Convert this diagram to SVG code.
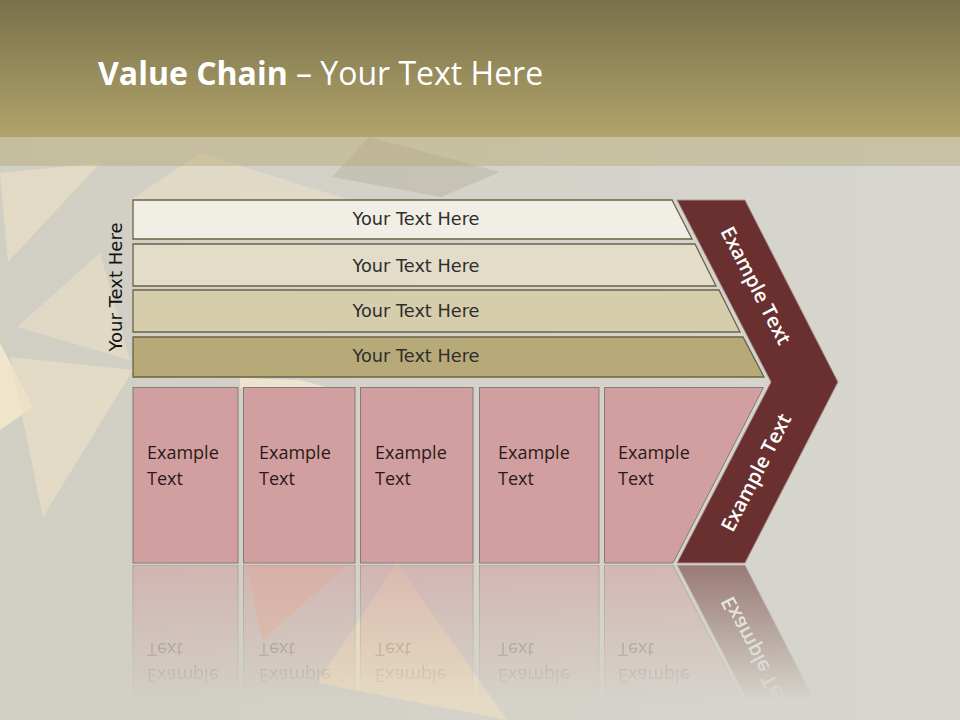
<svg xmlns="http://www.w3.org/2000/svg" xmlns:xlink="http://www.w3.org/1999/xlink" width="960" height="720" viewBox="0 0 960 720">
<defs>
<linearGradient id="titleGrad" x1="0" y1="0" x2="0" y2="1">
<stop offset="0" stop-color="#79714a"/>
<stop offset="1" stop-color="#b1a36b"/>
</linearGradient>
<linearGradient id="bgGrad" x1="0" y1="0" x2="1" y2="0">
<stop offset="0" stop-color="#d1cec4"/>
<stop offset="0.5" stop-color="#d4d2c9"/>
<stop offset="1" stop-color="#d7d6cf"/>
</linearGradient>
<linearGradient id="fadeGrad" x1="0" y1="565" x2="0" y2="700" gradientUnits="userSpaceOnUse">
<stop offset="0" stop-color="#fff" stop-opacity="0.55"/>
<stop offset="1" stop-color="#fff" stop-opacity="0"/>
</linearGradient>
<mask id="fade" maskUnits="userSpaceOnUse" x="0" y="565" width="960" height="155">
<rect x="0" y="565" width="960" height="155" fill="url(#fadeGrad)"/>
</mask>
<style>
.title{font-family:"Open Sans","Liberation Sans",sans-serif;fill:#ffffff;font-size:32px}
.bar{stroke:#6b6346;stroke-width:1.3}
.bartxt{font-family:"DejaVu Sans",sans-serif;font-size:17px;fill:#2e2e2e;text-anchor:middle}
.box{fill:#d19fa0;stroke:#857a76;stroke-width:1}
.boxtxt{font-family:"Open Sans","Liberation Sans",sans-serif;font-size:18px;fill:#2a1a1a}
.chev{fill:#69302f;stroke:#a99290;stroke-width:1}
.chevtxt{font-family:"Open Sans","Liberation Sans",sans-serif;font-size:20px;font-weight:600;fill:#ffffff;text-anchor:middle}
.deco{fill:#e9e0c4}
.decod{fill:#bdb8a8}
</style>
</defs>

<!-- background -->
<rect x="0" y="0" width="960" height="720" fill="url(#bgGrad)"/>
<g id="background">
<polygon class="deco" points="0,173 100,163 8,262" opacity="0.7"/>
<polygon class="deco" points="17,327 100,253 130,360" opacity="0.6"/>
<polygon fill="#f1e8cb" points="0,343 33,407 0,430" opacity="0.9"/>
<polygon class="deco" points="10,357 133,370 43,517" opacity="0.7"/>
<polygon class="deco" points="200,153 350,200 131,200" opacity="0.6"/>
<polygon class="decod" points="369,137 500,172 441,197 332,177" opacity="0.6"/>
<polygon fill="#f2e9cf" points="240,378 300,380 330,388 240,388" opacity="0.8"/>
<polygon fill="#ebdcc0" points="397,563 507,720 317,683" opacity="0.75"/>
<polygon fill="#e8b898" points="247,565 347,565 262,640" opacity="0.5"/>
</g>

<!-- title band -->
<rect x="0" y="0" width="960" height="137" fill="url(#titleGrad)"/>
<rect x="0" y="137" width="960" height="29" fill="#b5a874" opacity="0.45"/>
<text class="title" x="98" y="85"><tspan font-weight="bold">Value Chain</tspan> – Your Text Here</text>

<!-- vertical label -->
<text id="side-label" x="0" y="0" transform="translate(122,287) rotate(-90)" class="bartxt" style="fill:#111" textLength="129" lengthAdjust="spacingAndGlyphs">Your Text Here</text>

<g id="diagram">
<g id="bar1">
<polygon class="bar" fill="#f1efe5" points="133,200 672,200 692,239 133,239"/>
<text class="bartxt" x="416" y="225" textLength="127" lengthAdjust="spacingAndGlyphs">Your Text Here</text>
</g>
<g id="bar2">
<polygon class="bar" fill="#e2dcc8" points="133,244 695,244 716,286 133,286"/>
<text class="bartxt" x="416" y="272" textLength="127" lengthAdjust="spacingAndGlyphs">Your Text Here</text>
</g>
<g id="bar3">
<polygon class="bar" fill="#d6cdad" points="133,290 719,290 740,332 133,332"/>
<text class="bartxt" x="416" y="317" textLength="127" lengthAdjust="spacingAndGlyphs">Your Text Here</text>
</g>
<g id="bar4">
<polygon class="bar" fill="#b8aa78" points="133,337 743,337 764,377 133,377"/>
<text class="bartxt" x="416" y="362" textLength="127" lengthAdjust="spacingAndGlyphs">Your Text Here</text>
</g>

<g id="box1">
<rect class="box" x="133" y="387.5" width="105" height="175.5"/>
<text class="boxtxt" x="147" y="459">Example</text>
<text class="boxtxt" x="147" y="485">Text</text>
</g>
<g id="box2">
<rect class="box" x="243.5" y="387.5" width="111.5" height="175.5"/>
<text class="boxtxt" x="259" y="459">Example</text>
<text class="boxtxt" x="259" y="485">Text</text>
</g>
<g id="box3">
<rect class="box" x="360.5" y="387.5" width="112.5" height="175.5"/>
<text class="boxtxt" x="375" y="459">Example</text>
<text class="boxtxt" x="375" y="485">Text</text>
</g>
<g id="box4">
<rect class="box" x="479.5" y="387.5" width="119.5" height="175.5"/>
<text class="boxtxt" x="498" y="459">Example</text>
<text class="boxtxt" x="498" y="485">Text</text>
</g>
<g id="box5">
<polygon class="box" points="604.5,387.5 763.5,387.5 673,563 604.5,563"/>
<text class="boxtxt" x="618" y="459">Example</text>
<text class="boxtxt" x="618" y="485">Text</text>
</g>

<g id="chevron">
<polygon class="chev" points="677,200 745,200 838,382 745,563 677,563 771,382"/>
<text class="chevtxt" x="0" y="0" transform="translate(755,286) rotate(62.7)" dy="6">Example Text</text>
<text class="chevtxt" x="0" y="0" transform="translate(757,473) rotate(-62.7)" dy="6">Example Text</text>
</g>
</g>

<!-- reflection -->
<g id="reflection" mask="url(#fade)">
<use xlink:href="#diagram" href="#diagram" transform="translate(0,1128) scale(1,-1)"/>
</g>
</svg>
